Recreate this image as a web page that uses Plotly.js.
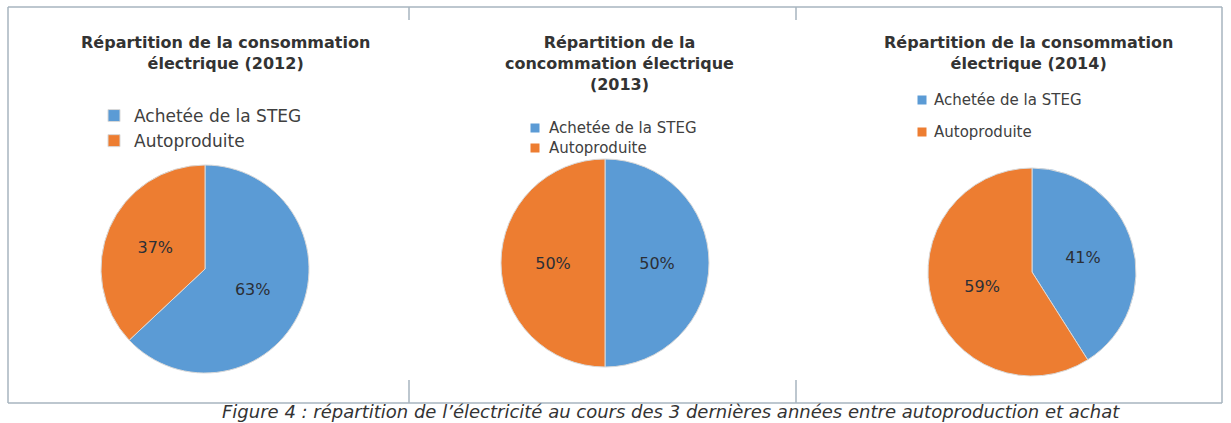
<!DOCTYPE html>
<html>
<head>
<meta charset="utf-8">
<script src="https://cdn.plot.ly/plotly-3.0.1.min.js"></script>
<style>
  html, body { margin: 0; padding: 0; background: #ffffff; }
  #chart { width: 1231px; height: 423px; }
</style>
</head>
<body>
<div id="chart"></div>
<script>
// ---- Data ----
const sliceLabels = ['Achetée de la STEG', 'Autoproduite'];
const values2012 = [63, 37];
const values2013 = [50, 50];
const values2014 = [41, 59];
const chartTitles = [
  'Répartition de la consommation<br>électrique (2012)',
  'Répartition de la<br>concommation électrique<br>(2013)',
  'Répartition de la consommation<br>électrique (2014)'
];
const caption = 'Figure 4 : répartition de l’électricité au cours des 3 dernières années entre autoproduction et achat';

// ---- Layout helpers (pixel -> paper) ----
const W = 1231, H = 423;
const px = v => v / W;
const py = v => 1 - v / H;
const R = 104;
const FONT = 'DejaVu Sans, sans-serif';

const colors = ['#5b9bd5', '#ed7d31'];
const centers = [[205, 269], [605, 263], [1032, 272]];
const seriesValues = [values2012, values2013, values2014];

const traces = seriesValues.map((vals, i) => ({
  type: 'pie',
  name: chartTitles[i].replace(/<br>/g, ' '),
  labels: sliceLabels,
  values: vals,
  sort: false,
  direction: 'clockwise',
  rotation: 0,
  textinfo: 'percent',
  textposition: 'inside',
  insidetextorientation: 'horizontal',
  texttemplate: '%{percent:.0%}',
  textfont: { family: FONT, size: 16, color: '#2b2f36' },
  marker: { colors: colors, line: { color: '#d9d9d9', width: 1 } },
  hoverinfo: 'label+percent',
  showlegend: i === 0,
  domain: {
    x: [px(centers[i][0] - R), px(centers[i][0] + R)],
    y: [py(centers[i][1] + R), py(centers[i][1] - R)]
  }
}));

const frameColor = '#a7b5bf';
const line = (x0, y0, x1, y1) => ({
  type: 'line', xref: 'paper', yref: 'paper',
  x0: px(x0), y0: py(y0), x1: px(x1), y1: py(y1),
  line: { color: frameColor, width: 1.5 }
});

const shapes = [
  line(8, 7, 1222, 7),
  line(8, 7, 8, 403),
  line(1222, 7, 1222, 403),
  line(8, 403, 1222, 403),
  line(409, 7, 409, 20),
  line(796, 7, 796, 20),
  line(409, 380, 409, 403),
  line(796, 380, 796, 403)
];

const titleCenters = [[225, 53], [619, 63], [1028, 53]];
const annotations = chartTitles.map((t, i) => ({
  text: '<b>' + t + '</b>', xref: 'paper', yref: 'paper',
  x: px(titleCenters[i][0]), y: py(titleCenters[i][1]),
  xanchor: 'center', yanchor: 'middle', showarrow: false,
  align: 'center',
  font: { family: FONT, size: 16, color: '#333333' }
}));

// Manual legends for panels 2 and 3 (pie legends merge identical labels)
const manualLegends = [
  { sq: 535, tx: 547, ys: [128, 148], size: 15 },
  { sq: 922, tx: 932, ys: [100, 132], size: 15 }
];
manualLegends.forEach(ml => {
  sliceLabels.forEach((lab, k) => {
    const y = ml.ys[k];
    shapes.push({
      type: 'rect', xref: 'paper', yref: 'paper',
      x0: px(ml.sq - 4.5), x1: px(ml.sq + 4.5),
      y0: py(y + 4.5), y1: py(y - 4.5),
      fillcolor: colors[k], line: { width: 0 }
    });
    annotations.push({
      text: lab, xref: 'paper', yref: 'paper',
      x: px(ml.tx), y: py(y), xanchor: 'left', yanchor: 'middle',
      showarrow: false,
      font: { family: FONT, size: ml.size, color: '#404040' }
    });
  });
});

annotations.push({
  text: '<i>' + caption + '</i>', xref: 'paper', yref: 'paper',
  x: px(671), y: py(411), xanchor: 'center', yanchor: 'middle',
  showarrow: false,
  font: { family: FONT, size: 18, color: '#333333' }
});

const layout = {
  width: W, height: H,
  margin: { l: 0, r: 0, t: 0, b: 0 },
  paper_bgcolor: '#ffffff',
  showlegend: true,
  legend: {
    x: px(94), y: py(98), xanchor: 'left', yanchor: 'top',
    bgcolor: 'rgba(0,0,0,0)',
    font: { family: FONT, size: 17, color: '#404040' },
    traceorder: 'normal'
  },
  shapes: shapes,
  annotations: annotations
};

Plotly.newPlot('chart', traces, layout, { displayModeBar: false, staticPlot: true });
</script>
</body>
</html>
